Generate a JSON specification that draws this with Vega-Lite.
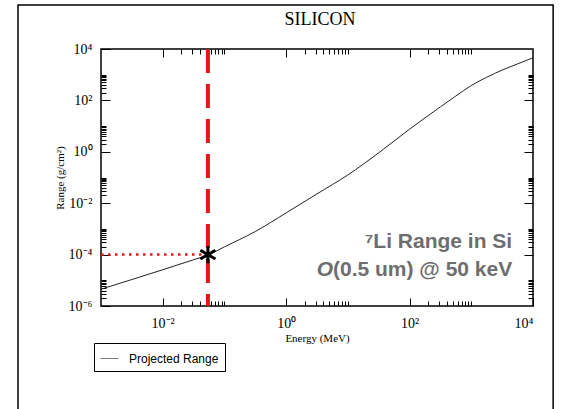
{
  "$schema": "https://vega.github.io/schema/vega-lite/v6.json",
  "width": 432,
  "height": 257,
  "autosize": {"type": "none"},
  "padding": {"left": 101, "top": 49, "right": 29, "bottom": 103},
  "background": "white",
  "title": {"text": "SILICON", "font": "Liberation Serif", "fontSize": 18, "fontWeight": "normal", "color": "black", "anchor": "middle", "frame": "group", "offset": -43, "baseline": "bottom", "dx": 3},
  "config": {
    "view": {"stroke": "black", "strokeWidth": 1.5},
    "axis": {"domain": false, "grid": false, "tickColor": "black", "tickWidth": 1, "labelFont": "Liberation Serif", "labelFontSize": 14, "labelColor": "black", "titleFont": "Liberation Serif", "titleFontSize": 11, "titleFontWeight": "normal", "titleColor": "black"}
  },
  "datasets": {
    "curve": [
      {"E": 0.001, "R": 4.5e-6},
      {"E": 0.00316, "R": 1.07e-5},
      {"E": 0.01, "R": 2.57e-5},
      {"E": 0.0316, "R": 6.3e-5},
      {"E": 0.054, "R": 9.6e-5},
      {"E": 0.1, "R": 2.0e-4},
      {"E": 0.316, "R": 7.9e-4},
      {"E": 1, "R": 0.0042},
      {"E": 3.16, "R": 0.023},
      {"E": 10, "R": 0.126},
      {"E": 31.6, "R": 0.91},
      {"E": 100, "R": 7.6},
      {"E": 316, "R": 56},
      {"E": 562, "R": 148},
      {"E": 1000, "R": 380},
      {"E": 1780, "R": 794},
      {"E": 3162, "R": 1510},
      {"E": 5620, "R": 2630},
      {"E": 10000, "R": 4570}
    ],
    "marker": [{"E": 0.054, "R": 0.0001, "E0": 0.001}],
    "frame": [{"x1": 0.0000452, "x2": 21200, "y1": 510000, "y2": 1e-12}],
    "notes": [
      {"E": 4600, "R": 0.00018, "t": "⁷Li Range in Si"},
      {"E": 4600, "R": 0.000015, "t": "(0.5 um) @ 50 keV"}
    ],
    "italic": [{"E": 4600, "R": 0.000015, "t": "O"}]
  },
  "resolve": {"axis": {"x": "independent", "y": "independent"}},
  "layer": [
    {
      "data": {"name": "frame"},
      "mark": {"type": "rect", "filled": false, "stroke": "black", "strokeWidth": 1.5},
      "encoding": {
        "x": {"field": "x1", "type": "quantitative", "scale": {"type": "log", "domain": [0.001, 10000], "nice": false}, "axis": null},
        "x2": {"field": "x2"},
        "y": {"field": "y1", "type": "quantitative", "scale": {"type": "log", "domain": [0.000001, 10000], "nice": false}, "axis": null},
        "y2": {"field": "y2"}
      }
    },
    {
      "data": {"name": "curve"},
      "mark": {"type": "line", "strokeWidth": 1, "clip": true, "interpolate": "monotone"},
      "encoding": {
        "x": {"field": "E", "type": "quantitative", "scale": {"type": "log", "domain": [0.001, 10000], "nice": false},
          "axis": {"orient": "bottom", "values": [0.01, 1, 100, 10000], "tickSize": -8, "labelPadding": 18, "labelExpr": "'10' + (round(log(datum.value)/LN10) < 0 ? '⁻' : '') + ['⁰','¹','²','³','⁴','⁵','⁶','⁷','⁸','⁹'][abs(round(log(datum.value)/LN10))]", "title": "Energy (MeV)", "titlePadding": 2}},
        "y": {"field": "R", "type": "quantitative", "scale": {"type": "log", "domain": [0.000001, 10000], "nice": false},
          "axis": {"orient": "left", "values": [0.000001, 0.0001, 0.01, 1, 100, 10000], "tickSize": -9, "labelPadding": 18, "labelExpr": "'10' + (round(log(datum.value)/LN10) < 0 ? '⁻' : '') + ['⁰','¹','²','³','⁴','⁵','⁶','⁷','⁸','⁹'][abs(round(log(datum.value)/LN10))]", "title": "Range (g/cm²)", "titlePadding": 3}},
        "color": {"datum": "Projected Range", "type": "nominal", "scale": {"range": ["#222222"]},
          "legend": {"orient": "none", "legendX": -7, "legendY": 294, "title": null, "strokeColor": "black", "padding": 6, "labelFont": "Liberation Sans", "labelFontSize": 12, "labelColor": "black", "labelOffset": 10, "symbolType": "stroke", "symbolSize": 324, "symbolStrokeWidth": 1, "symbolOpacity": 0.6, "fillColor": "white"}}
      }
    },
    {
      "data": {"name": "marker"},
      "mark": {"type": "rule", "color": "#e8141c", "strokeWidth": 4, "strokeDash": [24, 11]},
      "encoding": {
        "x": {"field": "E", "type": "quantitative", "scale": {"type": "log", "domain": [0.001, 10000], "nice": false},
          "axis": {"orient": "bottom", "values": [0.02, 0.03, 0.04, 0.05, 0.06, 0.07, 0.08, 0.09, 0.1, 2, 3, 4, 5, 6, 7, 8, 9, 10, 200, 300, 400, 500, 600, 700, 800, 900, 1000], "tickSize": -5, "labels": false, "title": null}}
      }
    },
    {
      "data": {"name": "marker"},
      "mark": {"type": "rule", "color": "#e8141c", "strokeWidth": 2.5, "strokeDash": [2.5, 4.5]},
      "encoding": {
        "x": {"field": "E0", "type": "quantitative", "scale": {"type": "log", "domain": [0.001, 10000], "nice": false}, "axis": null},
        "x2": {"field": "E"},
        "y": {"field": "R", "type": "quantitative", "scale": {"type": "log", "domain": [0.000001, 10000], "nice": false},
          "axis": {"orient": "left", "values": [0.000002, 0.000003, 0.000004, 0.000005, 0.000006, 0.000007, 0.000008, 0.000009, 0.00001, 0.0002, 0.0003, 0.0004, 0.0005, 0.0006, 0.0007, 0.0008, 0.0009, 0.001, 0.02, 0.03, 0.04, 0.05, 0.06, 0.07, 0.08, 0.09, 0.1, 2, 3, 4, 5, 6, 7, 8, 9, 10, 200, 300, 400, 500, 600, 700, 800, 900, 1000], "tickSize": -5, "labels": false, "title": null}}
      }
    },
    {
      "data": {"name": "marker"},
      "mark": {"type": "point", "shape": "M0,-1L0,1M-0.87,-0.5L0.87,0.5M-0.87,0.5L0.87,-0.5", "filled": false, "stroke": "black", "strokeWidth": 3, "size": 300, "opacity": 1},
      "encoding": {
        "x": {"field": "E", "type": "quantitative", "scale": {"type": "log", "domain": [0.001, 10000], "nice": false},
          "axis": {"orient": "top", "values": [0.01, 1, 100, 0.02, 0.03, 0.04, 0.05, 0.06, 0.07, 0.08, 0.09, 0.1, 2, 3, 4, 5, 6, 7, 8, 9, 10, 200, 300, 400, 500, 600, 700, 800, 900, 1000], "labels": false, "title": null,
            "tickSize": {"condition": {"test": "abs(log(datum.value)/LN10 - round(log(datum.value)/LN10)) < 0.001 && round(log(datum.value)/LN10) % 2 == 0", "value": -8}, "value": -5}}},
        "y": {"field": "R", "type": "quantitative", "scale": {"type": "log", "domain": [0.000001, 10000], "nice": false},
          "axis": {"orient": "right", "values": [0.0001, 0.01, 1, 100, 0.000002, 0.000003, 0.000004, 0.000005, 0.000006, 0.000007, 0.000008, 0.000009, 0.00001, 0.0002, 0.0003, 0.0004, 0.0005, 0.0006, 0.0007, 0.0008, 0.0009, 0.001, 0.02, 0.03, 0.04, 0.05, 0.06, 0.07, 0.08, 0.09, 0.1, 2, 3, 4, 5, 6, 7, 8, 9, 10, 200, 300, 400, 500, 600, 700, 800, 900, 1000], "labels": false, "title": null,
            "tickSize": {"condition": {"test": "abs(log(datum.value)/LN10 - round(log(datum.value)/LN10)) < 0.001 && round(log(datum.value)/LN10) % 2 == 0", "value": -9}, "value": -5}}}
      }
    },
    {
      "data": {"name": "notes"},
      "mark": {"type": "text", "align": "right", "baseline": "alphabetic", "font": "Liberation Sans", "fontSize": 21, "fontWeight": "bold", "color": "#6e6e6e"},
      "encoding": {
        "x": {"field": "E", "type": "quantitative", "scale": {"type": "log", "domain": [0.001, 10000], "nice": false}, "axis": null},
        "y": {"field": "R", "type": "quantitative", "scale": {"type": "log", "domain": [0.000001, 10000], "nice": false}, "axis": null},
        "text": {"field": "t"}
      }
    },
    {
      "data": {"name": "italic"},
      "mark": {"type": "text", "align": "right", "baseline": "alphabetic", "font": "Liberation Sans", "fontSize": 21, "fontWeight": "bold", "fontStyle": "italic", "color": "#6e6e6e", "dx": -179},
      "encoding": {
        "x": {"field": "E", "type": "quantitative", "scale": {"type": "log", "domain": [0.001, 10000], "nice": false}, "axis": null},
        "y": {"field": "R", "type": "quantitative", "scale": {"type": "log", "domain": [0.000001, 10000], "nice": false}, "axis": null},
        "text": {"field": "t"}
      }
    }
  ]
}
